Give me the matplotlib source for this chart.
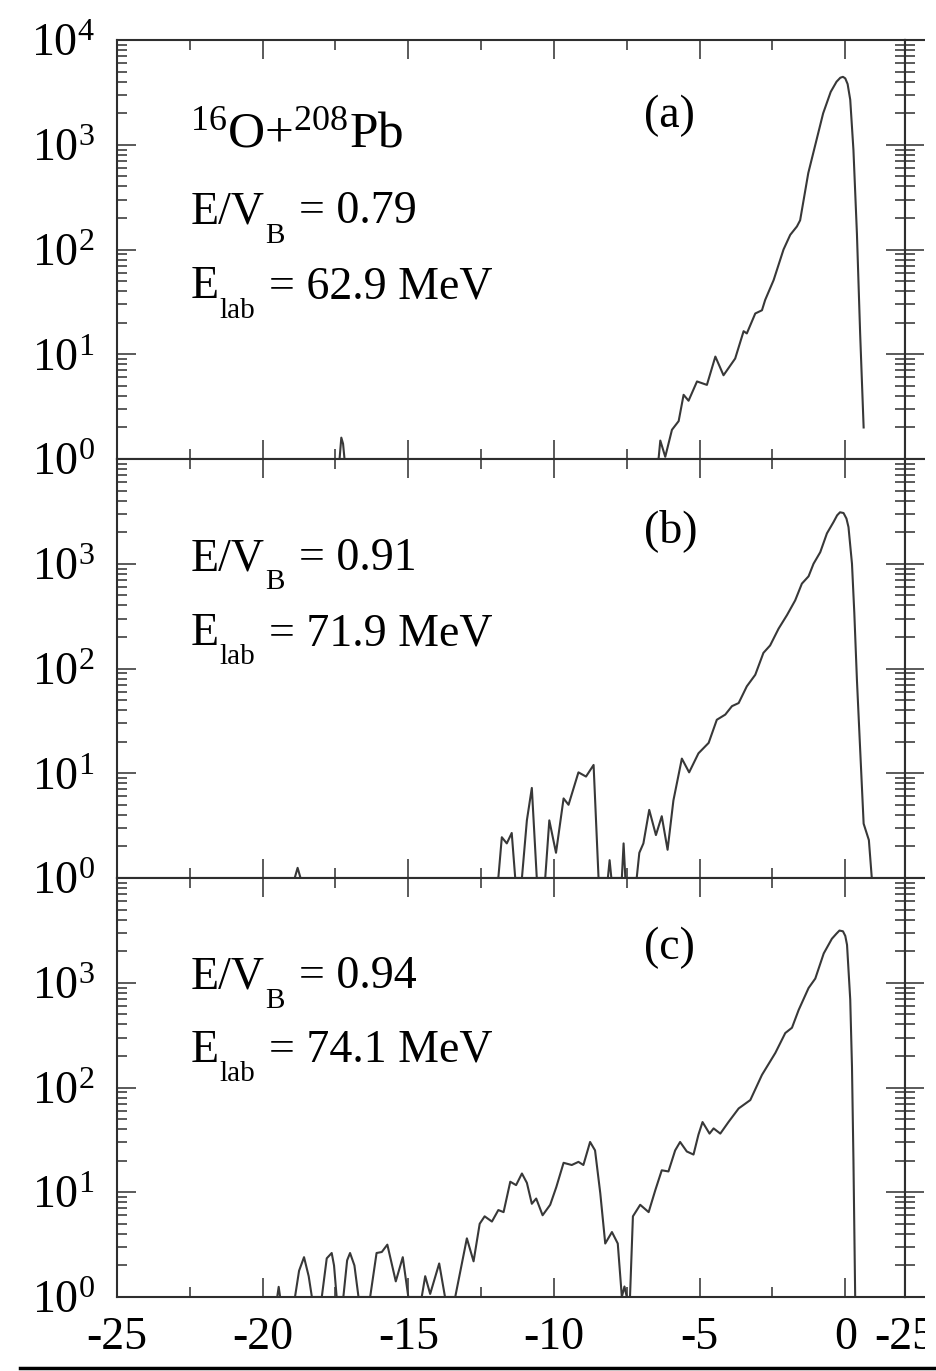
import numpy as np
import matplotlib
matplotlib.use('Agg')
import matplotlib.pyplot as plt
from matplotlib.ticker import MultipleLocator, NullFormatter, LogLocator
from matplotlib.lines import Line2D
from matplotlib.patches import Rectangle

plt.rcParams['font.family'] = ['Liberation Serif', 'DejaVu Serif']
plt.rcParams['mathtext.fontset'] = 'custom'
plt.rcParams['mathtext.rm'] = 'Liberation Serif'
plt.rcParams['mathtext.it'] = 'Liberation Serif:italic'

# panel (a): 16O+208Pb, E/VB = 0.79
xa_spike = [-17.36, -17.3, -17.24, -17.19]
ya_spike = [1, 1.6, 1.4, 1]
xa = [-6.45, -6.41, -6.35, -6.18, -5.95, -5.72, -5.55, -5.38, -5.09, -4.75,
      -4.46, -4.18, -3.78, -3.49, -3.38, -3.09, -2.86, -2.75, -2.46, -2.12,
      -1.89, -1.66, -1.55, -1.27, -1.1, -0.76, -0.5, -0.3, -0.17, -0.08,
      0.0, 0.08, 0.17, 0.28, 0.4, 0.51, 0.63]
ya = [1, 1, 1.5, 1.05, 1.9, 2.3, 4.1, 3.6, 5.5, 5.1,
      9.5, 6.3, 9.1, 16.6, 15.8, 24.5, 26.3, 33, 51, 100,
      138, 166, 190, 537, 832, 1995, 3200, 4000, 4365, 4450,
      4300, 3800, 2690, 891, 141, 15.8, 2.0]

# panel (b): E/VB = 0.91
xb_spike = [-18.9, -18.8, -18.7]
yb_spike = [1, 1.25, 1]
xb = [-11.95, -11.91, -11.79, -11.62, -11.45, -11.33, -11.10, -10.93, -10.76, -10.59,
      -10.30, -10.16, -9.93, -9.67, -9.50, -9.16, -8.90, -8.64, -8.47, -8.15,
      -8.09, -8.03, -7.67, -7.61, -7.55, -7.16, -7.07, -6.93, -6.73, -6.50,
      -6.30, -6.10, -5.90, -5.61, -5.36, -5.04, -4.69, -4.41, -4.12, -3.89,
      -3.66, -3.38, -3.09, -2.81, -2.58, -2.29, -2.0, -1.72, -1.49, -1.26,
      -1.09, -0.86, -0.63, -0.40, -0.28, -0.18, -0.06, 0.04, 0.11, 0.23,
      0.31, 0.40, 0.49, 0.63, 0.81, 0.91]
yb = [1, 1, 2.45, 2.14, 2.69, 1, 1, 3.55, 7.24, 1,
      1, 3.55, 1.74, 5.75, 5.0, 10.2, 9.3, 12.0, 1, 1,
      1.48, 1, 1, 2.14, 1, 1, 1.74, 2.14, 4.47, 2.57,
      3.89, 1.86, 5.5, 13.8, 10.2, 15.5, 19.5, 32.4, 36.3, 43.7,
      46.8, 67.6, 87.1, 141, 166, 240, 324, 447, 646, 759,
      1000, 1288, 1950, 2512, 2900, 3100, 3050, 2700, 2239, 1000,
      339, 77.6, 22.4, 3.3, 2.3, 1]

# panel (c): E/VB = 0.94
xc_spike = [-19.5, -19.45, -19.4]
yc_spike = [1, 1.25, 1]
xc = [-18.89, -18.75, -18.58, -18.42, -18.31, -17.97, -17.80, -17.63, -17.55, -17.46,
      -17.23, -17.10, -17.0, -16.85, -16.71, -16.31, -16.09, -15.91, -15.72, -15.43,
      -15.19, -15.0, -14.54, -14.42, -14.25, -13.94, -13.74, -13.39, -12.99, -12.76,
      -12.55, -12.38, -12.13, -11.91, -11.73, -11.50, -11.30, -11.10, -10.93, -10.76,
      -10.61, -10.39, -10.13, -9.92, -9.67, -9.39, -9.16, -8.99, -8.76, -8.59,
      -8.41, -8.24, -8.01, -7.81, -7.67, -7.58, -7.50, -7.39, -7.29, -7.04,
      -6.75, -6.52, -6.30, -6.07, -5.84, -5.67, -5.44, -5.21, -5.04, -4.90,
      -4.66, -4.52, -4.29, -4.01, -3.66, -3.26, -2.86, -2.40, -2.06, -1.83,
      -1.60, -1.26, -1.03, -0.74, -0.46, -0.30, -0.20, -0.08, 0.0, 0.06,
      0.17, 0.23, 0.28, 0.34]
yc = [1, 1.78, 2.4, 1.58, 1, 1, 2.34, 2.63, 2.0, 1,
      1, 2.24, 2.63, 2.0, 1, 1, 2.63, 2.69, 3.16, 1.41,
      2.4, 1, 1, 1.58, 1.07, 2.09, 1, 1, 3.63, 2.19,
      5.0, 5.89, 5.25, 6.76, 6.46, 12.6, 11.7, 15.1, 12.3, 7.76,
      8.71, 6.03, 7.59, 11.2, 19.1, 18.2, 19.5, 18.2, 30.2, 25.1,
      9.77, 3.24, 4.17, 3.24, 1, 1.26, 1, 1, 5.89, 7.59,
      6.46, 10.5, 16.2, 15.8, 25.1, 30.2, 24.5, 22.9, 35.5, 46.8,
      36.3, 40.7, 36.3, 46.8, 63.1, 75.9, 132, 214, 331, 372,
      550, 891, 1096, 1905, 2630, 2950, 3150, 3100, 2800, 2300,
      692, 158, 20.4, 1]

tags = ['(a)', '(b)', '(c)']
ratios = ['0.79', '0.91', '0.94']
elabs = ['62.9', '71.9', '74.1']
curves = [[(xa_spike, ya_spike), (xa, ya)],
          [(xb_spike, yb_spike), (xb, yb)],
          [(xc_spike, yc_spike), (xc, yc)]]
text_y = [(0.819, 0.563, 0.384), (0.83, 0.735, 0.556), (0.833, 0.737, 0.561)]

W, H = 936, 1371
fig = plt.figure(figsize=(W / 100, H / 100), dpi=100)
tops = [40, 459, 878]
ph = 419
left, right = 117, 905
fs = 33
sub_fs = 21
col = '#2e2e2e'


def style(ax, bottom_labels, ylabels):
    ax.set_yscale('log')
    ax.set_ylim(1, 1e4)
    ax.set_xlim(-25, 2.05)
    ax.xaxis.set_major_locator(MultipleLocator(5))
    ax.xaxis.set_minor_locator(MultipleLocator(2.5))
    ax.set_yticks([1, 10, 100, 1000, 10000])
    ax.yaxis.set_minor_locator(LogLocator(base=10, subs=np.arange(2, 10), numticks=100))
    ax.yaxis.set_minor_formatter(NullFormatter())
    ax.tick_params(which='both', direction='in', top=True, right=True,
                   width=1.1, color=col, labelsize=fs)
    ax.tick_params(which='major', length=14)
    ax.tick_params(which='minor', length=7.5)
    ax.tick_params(axis='y', pad=16)
    ax.tick_params(axis='x', pad=14)
    for s in ax.spines.values():
        s.set_linewidth(1.5)
        s.set_color(col)
    if ylabels is None:
        ax.tick_params(axis='y', labelleft=False)
    else:
        ax.set_yticklabels(ylabels)
    if not bottom_labels:
        ax.tick_params(axis='x', labelbottom=False)
    else:
        ax.set_xticks([-25, -20, -15, -10, -5, 0])
        ax.set_xticklabels(['-25', '-20', '-15', '-10', '-5', '0'])


def sub_label(ax, x, y, main, sub, rest):
    # main text, then a low small subscript, then the rest on the main baseline
    t1 = ax.text(x, y, main, transform=ax.transAxes, fontsize=fs, va='baseline')
    t2 = ax.annotate(sub, xy=(1, y), xycoords=(t1, 'axes fraction'),
                     xytext=(1, -14), textcoords='offset points',
                     fontsize=sub_fs, va='baseline')
    ax.annotate(rest, xy=(1, y), xycoords=(t2, 'axes fraction'),
                xytext=(10, 0), textcoords='offset points',
                fontsize=fs, va='baseline')


for i in range(3):
    bottom = (H - tops[i] - ph) / H
    ax = fig.add_axes([left / W, bottom, (right - left) / W, ph / H])
    labs = ['$10^{0}$', '$10^{1}$', '$10^{2}$', '$10^{3}$', '$10^{4}$' if i == 0 else '']
    style(ax, i == 2, labs)
    for x, y in curves[i]:
        ax.plot(x, y, color='#383838', lw=1.5, solid_joinstyle='round')
    ty = text_y[i]
    if i == 0:
        ax.text(0.093, 0.745, '$^{16}$O+$^{208}$Pb', transform=ax.transAxes,
                fontsize=37, va='baseline', ha='left')
    ax.text(0.669, ty[0], tags[i], transform=ax.transAxes, fontsize=fs,
            va='center', ha='left')
    sub_label(ax, 0.093, ty[1], 'E/V', 'B', '= ' + ratios[i])
    sub_label(ax, 0.093, ty[2], 'E', 'lab', '= ' + elabs[i] + ' MeV')

    # neighbouring panel that is cut off at the right edge
    ax2 = fig.add_axes([right / W, bottom, 0.8, ph / H])
    style(ax2, i == 2, None)
    if i == 2:
        ax2.set_xticks([-25])
        ax2.set_xticklabels(['-25'])

fig.add_artist(Rectangle((925 / W, 0), 1 - 925 / W, 1, transform=fig.transFigure,
                         facecolor='white', edgecolor='none', zorder=10))
fig.add_artist(Line2D([20 / W, 1], [3 / H, 3 / H], transform=fig.transFigure,
                      color='black', lw=2.5, zorder=11))

fig.savefig('out.png', dpi=100)
